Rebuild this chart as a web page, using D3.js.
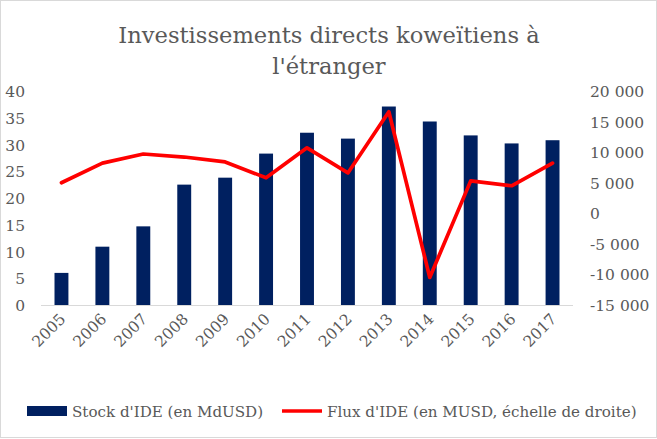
<!DOCTYPE html>
<html><head><meta charset="utf-8">
<script src="https://cdn.jsdelivr.net/npm/d3@7"></script>
<style>body{margin:0;background:#fff}svg{display:block}</style>
</head><body><div id="c"></div>
<script>
const years = ["2005","2006","2007","2008","2009","2010","2011","2012","2013","2014","2015","2016","2017"];
const stock = [6.0,10.9,14.7,22.5,23.8,28.3,32.2,31.1,37.1,34.3,31.7,30.2,30.8];
const flux = [5000,8200,9700,9200,8400,5800,10700,6600,16600,-10500,5300,4500,8200];
const leftTicks = [0,5,10,15,20,25,30,35,40];
const rightTicks = [-15000,-10000,-5000,0,5000,10000,15000,20000];
const titleLines = ["Investissements directs koweïtiens à","l'étranger"];
const legendLabels = ["Stock d'IDE (en MdUSD)","Flux d'IDE (en MUSD, échelle de droite)"];

const FF="'DejaVu Serif', serif";
const W=657,H=439;
const svg=d3.select("#c").append("svg").attr("width",W).attr("height",H)
  .attr("font-family",FF).attr("fill","#595959");
svg.append("rect").attr("x",0.5).attr("y",0.5).attr("width",W-1).attr("height",H-2).attr("fill","#fff").attr("stroke","#d9d9d9");
const x0=41,x1=573,yTop=91,yBot=305;
const x=d3.scaleBand().domain(years).range([x0,x1]).paddingInner(0.66).paddingOuter(0.33);
const yl=d3.scaleLinear().domain([0,40]).range([yBot,yTop]);
const yr=d3.scaleLinear().domain([-15000,20000]).range([yBot,yTop]);
const fmt=v=>d3.format(",")(v).replace(/,/g," ").replace("\u2212","-");

svg.append("g").selectAll("text").data(titleLines).join("text")
 .attr("x",329).attr("y",(d,i)=>43+i*31).attr("text-anchor","middle").attr("font-size",22.6).attr("fill","#595959").text(d=>d);

svg.append("g").selectAll("rect").data(years).join("rect")
 .attr("x",d=>x(d)).attr("width",x.bandwidth()).attr("y",(d,i)=>yl(stock[i])).attr("height",(d,i)=>yBot-yl(stock[i])).attr("fill","#002060");

svg.append("line").attr("x1",x0).attr("x2",x1).attr("y1",yBot+0.5).attr("y2",yBot+0.5).attr("stroke","#d9d9d9");

svg.append("g").selectAll("text").data(leftTicks).join("text")
 .attr("x",25).attr("y",d=>yl(d)+6).attr("text-anchor","end").attr("font-size",15.5).attr("fill","#595959").text(d=>d);
svg.append("g").selectAll("text").data(rightTicks).join("text")
 .attr("x",590).attr("y",d=>yr(d)+6).attr("text-anchor","start").attr("font-size",15.5).attr("fill","#595959").text(d=>fmt(d));

svg.append("g").selectAll("text").data(years).join("text")
 .attr("transform",d=>`translate(${x(d)+x.bandwidth()/2+5},${yBot+15}) rotate(-45)`)
 .attr("text-anchor","end").attr("font-size",15.5).attr("fill","#595959").text(d=>d);

const line=d3.line().x((d,i)=>x(years[i])+x.bandwidth()/2).y(d=>yr(d));
svg.append("path").datum(flux).attr("d",line).attr("fill","none").attr("stroke","#ff0000").attr("stroke-width",3.7).attr("stroke-linejoin","round").attr("stroke-linecap","round");

const lg=svg.append("g");
lg.append("rect").attr("x",27).attr("y",406).attr("width",40).attr("height",10).attr("fill","#002060");
lg.append("text").attr("x",72).attr("y",417).attr("font-size",15.1).attr("fill","#595959").text(legendLabels[0]);
lg.append("line").attr("x1",282).attr("x2",322).attr("y1",411).attr("y2",411).attr("stroke","#ff0000").attr("stroke-width",3.7);
lg.append("text").attr("x",327).attr("y",417).attr("font-size",15.1).attr("fill","#595959").text(legendLabels[1]);
</script></body></html>
